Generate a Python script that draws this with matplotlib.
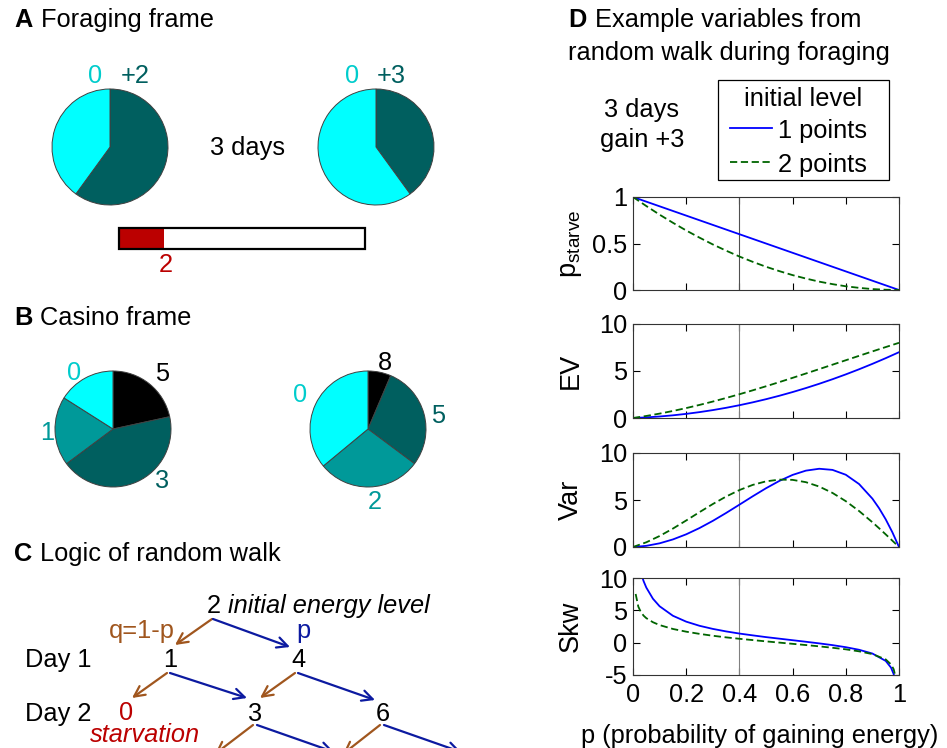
import matplotlib; matplotlib.use('Agg')
import matplotlib.pyplot as plt
import matplotlib.patches as patches

plt.rcParams.update({'font.family': ['Liberation Sans', 'DejaVu Sans'],
                     'font.size': 18.3, 'axes.unicode_minus': False})

# ---- data ----
FORAGE_GAIN = ['+2', '+3']
FORAGE_P_GAIN = [0.6, 0.4]          # share of the "gain" slice in A
INITIAL_LEVEL = 2
BAR_MAX = 11

CASINO1_VALS = ['5', '3', '1', '0']
CASINO1_PROBS = [0.216, 0.432, 0.192, 0.16]
CASINO2_VALS = ['8', '5', '2', '0']
CASINO2_PROBS = [0.064, 0.288, 0.288, 0.36]

P_GRID = [0, 0.05, 0.1, 0.15, 0.2, 0.25, 0.3, 0.35, 0.4, 0.45, 0.5,
          0.55, 0.6, 0.65, 0.7, 0.75, 0.8, 0.85, 0.9, 0.95, 1.0]
PSTARVE_1 = [1.0, 0.95, 0.9, 0.85, 0.8, 0.75, 0.7, 0.65, 0.6, 0.55, 0.5,
             0.45, 0.4, 0.35, 0.3, 0.25, 0.2, 0.15, 0.1, 0.05, 0.0]
PSTARVE_2 = [1.0, 0.903, 0.81, 0.723, 0.64, 0.563, 0.49, 0.423, 0.36, 0.303, 0.25,
             0.203, 0.16, 0.123, 0.09, 0.063, 0.04, 0.023, 0.01, 0.003, 0.0]
EV_1 = [0, 0.065, 0.16, 0.285, 0.44, 0.625, 0.84, 1.085, 1.36, 1.665, 2.0,
        2.365, 2.76, 3.185, 3.64, 4.125, 4.64, 5.185, 5.76, 6.365, 7.0]
EV_2 = [0, 0.217, 0.467, 0.747, 1.056, 1.391, 1.749, 2.129, 2.528, 2.944, 3.375,
        3.818, 4.272, 4.734, 5.201, 5.672, 6.144, 6.615, 7.083, 7.545, 8.0]
VAR_P = [0, 0.05, 0.1, 0.15, 0.2, 0.25, 0.3, 0.35, 0.4, 0.45, 0.5,
         0.55, 0.6, 0.65, 0.7, 0.75, 0.8, 0.85, 0.9, 0.925, 0.95, 0.975, 1.0]
VAR_1 = [0, 0.123, 0.392, 0.805, 1.350, 2.016, 2.780, 3.620, 4.502, 5.393, 6.25,
         7.027, 7.670, 8.124, 8.324, 8.203, 7.686, 6.695, 5.144, 4.131, 2.945, 1.572, 0]
VAR_2 = [0, 0.500, 1.169, 1.959, 2.821, 3.707, 4.570, 5.367, 6.057, 6.606, 6.984,
         7.168, 7.142, 6.896, 6.431, 5.752, 4.875, 3.825, 2.634, 1.998, 1.343, 0.674, 0]
SKW_P = [0.01, 0.02, 0.03, 0.04, 0.05, 0.075, 0.1, 0.15, 0.2, 0.25, 0.3, 0.35,
         0.4, 0.45, 0.5, 0.55, 0.6, 0.65, 0.7, 0.75, 0.8, 0.85, 0.9, 0.95,
         0.97, 0.98, 0.99]
SKW_1 = [15.28, 12.44, 10.74, 9.50, 8.52, 6.79, 5.63, 4.16, 3.25, 2.61, 2.13, 1.74,
         1.41, 1.13, 0.86, 0.62, 0.38, 0.14, -0.11, -0.38, -0.70, -1.10, -1.68, -2.82,
         -3.86, -4.86, -7.06]
SKW_2 = [7.53, 5.57, 4.70, 4.17, 3.79, 3.16, 2.72, 2.12, 1.70, 1.36, 1.07, 0.82,
         0.60, 0.40, 0.20, 0.01, -0.18, -0.37, -0.57, -0.79, -1.03, -1.34, -1.77, -2.59,
         -3.36, -4.11, -5.80]

CYAN = '#00ffff'
CYAN_TXT = '#00cccc'
DARK = '#005f5f'
MID = '#009999'
RED = '#bb0000'
BROWN = '#a0561e'
NAVY = '#0c1aa0'

W, H = 947, 748
fig = plt.figure(figsize=(W / 100, H / 100), dpi=100)


def px_box(l, t, r, b):
    return [l / W, 1 - b / H, (r - l) / W, (b - t) / H]


# overlay axes in pixel coordinates for text / diagram
ov = fig.add_axes([0, 0, 1, 1])
ov.set_xlim(0, W)
ov.set_ylim(H, 0)
ov.axis('off')


def txt(x, y, s, ha='left', **kw):
    ov.text(x, y, s, ha=ha, va='baseline', **kw)


# panel titles
for letter, rest, x2, y in [('A', 'Foraging frame', 41, 26.7),
                            ('B', 'Casino frame', 40, 325),
                            ('C', 'Logic of random walk', 40, 561)]:
    txt(14, y, letter, weight='bold')
    txt(x2, y, rest)
txt(568, 27, 'D', weight='bold')
txt(595, 27, 'Example variables from')
txt(568, 60, 'random walk during foraging')


def pie_at(cx, cy, r, fracs, colors):
    a = fig.add_axes(px_box(cx - 1.25 * r, cy - 1.25 * r, cx + 1.25 * r, cy + 1.25 * r))
    a.pie(fracs, colors=colors, startangle=90, counterclock=False,
          wedgeprops=dict(edgecolor='#404040', linewidth=0.7))
    a.set_xlim(-1.25, 1.25)
    a.set_ylim(-1.25, 1.25)
    a.set_aspect('equal')
    return a


# ---- A: foraging frame ----
pie_at(110, 147, 58, [FORAGE_P_GAIN[0], 1 - FORAGE_P_GAIN[0]], [DARK, CYAN])
pie_at(376, 147, 58, [FORAGE_P_GAIN[1], 1 - FORAGE_P_GAIN[1]], [DARK, CYAN])
txt(95, 83, '0', ha='center', color=CYAN_TXT)
txt(135, 83, FORAGE_GAIN[0], ha='center', color=DARK)
txt(352, 83, '0', ha='center', color=CYAN_TXT)
txt(391, 83, FORAGE_GAIN[1], ha='center', color=DARK)
txt(248, 155, '3 days', ha='center')

bx0, bx1, by0, by1 = 119, 365, 228, 249
ov.add_patch(patches.Rectangle((bx0, by0), (bx1 - bx0) * INITIAL_LEVEL / BAR_MAX, by1 - by0,
                               facecolor=RED, edgecolor='none'))
ov.add_patch(patches.Rectangle((bx0, by0), bx1 - bx0, by1 - by0,
                               facecolor='none', edgecolor='black', lw=1.6))
txt(166, 272, str(INITIAL_LEVEL), ha='center', color=RED)

# ---- B: casino frame ----
casino_cols = ['black', DARK, MID, CYAN]
pie_at(113, 429, 58, CASINO1_PROBS, casino_cols)
pie_at(368, 429, 58, CASINO2_PROBS, casino_cols)
lab_cols = ['black', DARK, MID, CYAN_TXT]
for s, c, (x, y) in zip(CASINO1_VALS, lab_cols, [(162, 381), (162, 488), (47, 440), (74, 380)]):
    txt(x, y, s, ha='center', color=c)
for s, c, (x, y) in zip(CASINO2_VALS, lab_cols, [(385, 370), (438, 423), (375, 509), (300, 402)]):
    txt(x, y, s, ha='center', color=c)

# ---- C: random walk tree ----
txt(207, 613, '2')
txt(228, 613, 'initial energy level', style='italic')
txt(175, 638, 'q=1-p', ha='right', color=BROWN)
txt(303, 638, 'p', ha='center', color=NAVY)
txt(25, 667, 'Day 1')
txt(170, 667, '1', ha='center')
txt(298, 667, '4', ha='center')
txt(25, 721, 'Day 2')
txt(126, 720, '0', ha='center', color=RED)
txt(90, 742, 'starvation', style='italic', color=RED)
txt(255, 721, '3', ha='center')
txt(383, 721, '6', ha='center')

arrows = [((212, 619), (175, 645), BROWN), ((213, 619), (290, 647), NAVY),
          ((167, 673), (132, 698), BROWN), ((170, 673), (247, 698), NAVY),
          ((295, 673), (260, 698), BROWN), ((298, 673), (375, 700), NAVY),
          ((253, 725), (215, 754), BROWN), ((257, 725), (334, 752), NAVY),
          ((380, 725), (343, 754), BROWN), ((384, 725), (461, 752), NAVY)]
for a, b, c in arrows:
    ov.add_patch(patches.FancyArrowPatch(a, b, arrowstyle='->', mutation_scale=19,
                                         color=c, lw=1.6, shrinkA=0, shrinkB=0))

# ---- D: random walk variables ----
txt(642, 117, '3 days', ha='center')
txt(642, 147, 'gain +3', ha='center')
ov.add_patch(patches.Rectangle((718, 80), 171, 100, facecolor='white',
                               edgecolor='black', lw=0.9))
txt(803, 106, 'initial level', ha='center')
ov.plot([730, 772], [128, 128], color='#0000ff', lw=1.3)
ov.plot([730, 772], [162, 162], color='#006400', lw=1.3, ls=(0, (4, 2)))
txt(778, 138, '1 points')
txt(778, 172, '2 points')

boxes = [(633, 197, 899, 290), (633, 324, 899, 418), (633, 453, 899, 547), (633, 578, 899, 675)]
series = [(P_GRID, PSTARVE_1, P_GRID, PSTARVE_2), (P_GRID, EV_1, P_GRID, EV_2),
          (VAR_P, VAR_1, VAR_P, VAR_2), (SKW_P, SKW_1, SKW_P, SKW_2)]
ylims = [(0, 1), (0, 10), (0, 10), (-5, 10)]
yticks = [([0, 0.5, 1], ['0', '0.5', '1']), ([0, 5, 10], ['0', '5', '10']),
          ([0, 5, 10], ['0', '5', '10']), ([-5, 0, 5, 10], ['-5', '0', '5', '10'])]
ylabels = [r'$\mathregular{p_{starve}}$', 'EV', 'Var', 'Skw']
for i, (bx, (x1, y1, x2, y2), yl, (tk, tl), lab) in enumerate(zip(boxes, series, ylims, yticks, ylabels)):
    a = fig.add_axes(px_box(*bx))
    a.axvline(0.4, color='#505050' if i == 0 else '#808080', lw=0.8)
    a.plot(x1, y1, color='#0000ff', lw=1.3)
    a.plot(x2, y2, color='#006400', lw=1.3, ls=(0, (4, 2)))
    a.set_xlim(0, 1)
    a.set_ylim(*yl)
    a.set_yticks(tk)
    a.set_yticklabels(tl)
    a.set_xticks([0, 0.2, 0.4, 0.6, 0.8, 1])
    if i == 3:
        a.set_xticklabels(['0', '0.2', '0.4', '0.6', '0.8', '1'])
        a.set_xlabel('p (probability of gaining energy)')
        a.xaxis.set_label_coords(0.478, -0.5)
    else:
        a.set_xticklabels([])
    a.tick_params(direction='in', top=True, right=True, length=5, width=0.8,
                  labelsize=18.3)
    a.tick_params(axis='y', pad=4)
    a.tick_params(axis='x', pad=6)
    for sp in a.spines.values():
        sp.set_color('#333333')
        sp.set_linewidth(0.8)
    a.set_ylabel(lab, fontsize=19.5)
    a.yaxis.set_label_coords(-0.185, 0.5)

fig.savefig('out.png', dpi=100)
